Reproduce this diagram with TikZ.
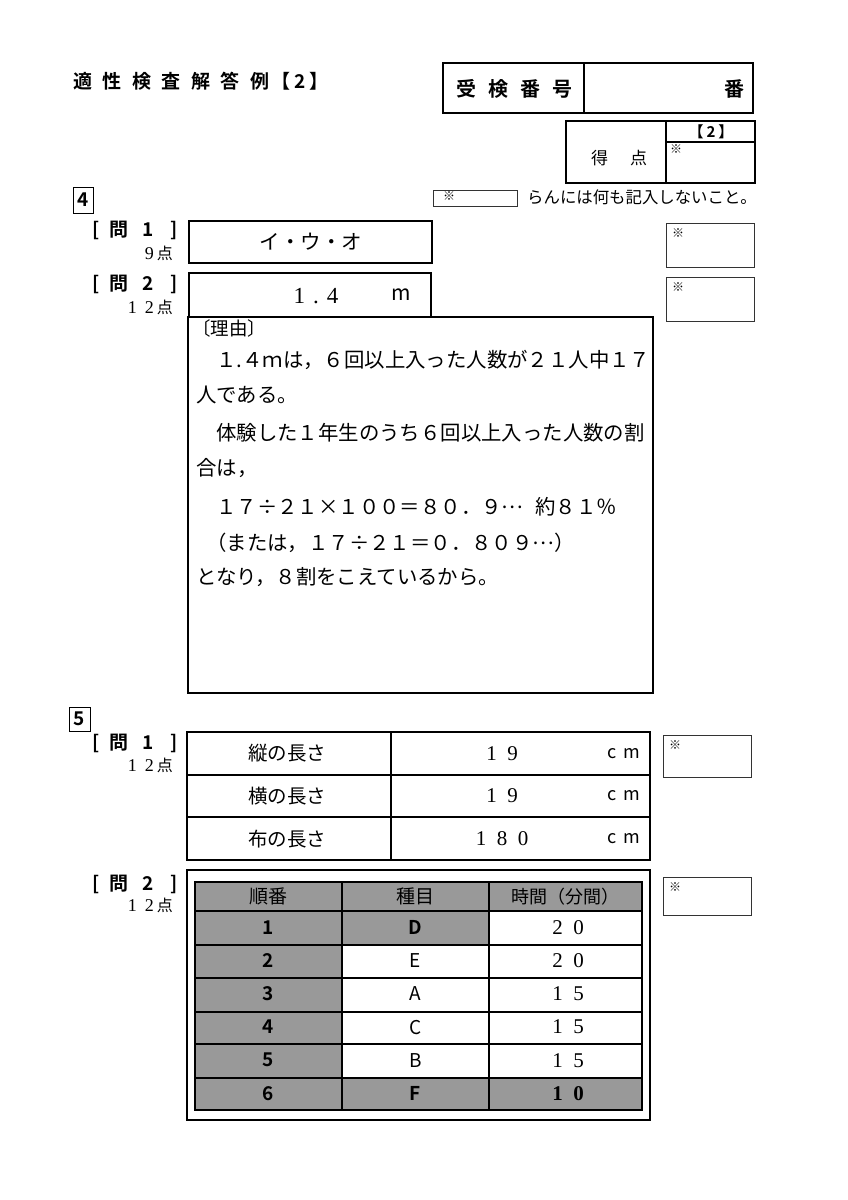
\documentclass[tikz,border=0pt]{standalone}
\usepackage{fontspec}
\setmainfont{Noto Sans CJK JP}
\newfontfamily\gbold{Noto Sans CJK JP Bold}
\newfontfamily\mc{Liberation Serif}
\newcommand\fsz[1]{\fontsize{#1}{#1}\selectfont}
\newcommand\gp[1]{\hspace{#1pt}}

\begin{document}
\begin{tikzpicture}[x=1pt,y=-1pt,
    kome/.style={anchor=north west, inner sep=0pt, font=\fsz{12}},
    qlabel/.style={anchor=east, inner sep=0pt, font=\gbold\fsz{19}},
    pts/.style={anchor=east, inner sep=0pt, font=\fsz{16}},
    reason/.style={anchor=west, inner sep=0pt, font=\fsz{20.4}},
    thinbox/.style={line width=0.8pt, draw=black!80},
    greycell/.style={fill=black!40}]
    \useasboundingbox (0,0) rectangle (848,1200);
    \fill[white] (0,0) rectangle (848,1200);
    % 見出し
    \node[anchor=west, inner sep=0pt, font=\gbold\fsz{19}] (title) at (73,81)
      {適\gp{10.5}性\gp{10.5}検\gp{10.5}査\gp{10.5}解\gp{10.5}答\gp{10.5}例\gp{2}【\gp{4}2\gp{4}】};
    % 受検番号
    \draw[line width=2.5pt] (443,63) rectangle (753,113);
    \draw[line width=2.5pt] (584,63) -- (584,113);
    \node[font=\gbold\fsz{20}] (juken) at (514,89) {受\gp{12}検\gp{12}番\gp{12}号};
    \node[font=\gbold\fsz{20}] (ban) at (734,89) {番};
    % 得点
    \draw[line width=1.2pt] (566,121) rectangle (755,183);
    \draw[line width=1.2pt] (666,121) -- (666,183) (666,142) -- (755,142);
    \node[font=\fsz{17}] (tokuten) at (619,158) {得\gp{22}点};
    \node[font=\gbold\fsz{15}] (kai) at (711,132) {【\gp{3}2\gp{3}】};
    \node[kome] (k0) at (670,144) {※};
    % 4
    \draw[line width=1pt] (73,187) rectangle (93,213);
    \node[font=\gbold\fsz{19}] (dai4) at (83,200) {4};
    \draw[thinbox] (433,190) rectangle (517,206);
    \node[kome] (k1) at (443,191) {※};
    \node[anchor=west, inner sep=0pt, font=\fsz{16.4}] (note) at (527,197) {らんには何も記入しないこと。};
    % 問1
    \node[qlabel] (q41) at (178,230) {[\gp{10}問\gp{14}1\gp{17}]};
    \node[pts] (p41) at (173,253) {{\mc\fsz{18} 9}\gp{3}点};
    \draw[line width=2pt] (189,221) rectangle (432,263);
    \node[font=\fsz{20.5}] (ans1) at (311,242) {イ・ウ・オ};
    \draw[thinbox] (666,223) rectangle (754,267);
    \node[kome] (k2) at (672,228) {※};
    % 問2
    \node[qlabel] (q42) at (178,284) {[\gp{10}問\gp{14}2\gp{17}]};
    \node[pts] (p42) at (173,307) {{\mc\fsz{18} 1\gp{8}2}\gp{3}点};
    \draw[line width=2pt] (189,273) rectangle (431,317);
    \node[font=\mc\fsz{23}] (ans2) at (316,296) {1\gp{8}.\gp{8}4};
    \node[font=\fsz{21}] (unit2) at (401,295) {m};
    \draw[thinbox] (666,277) rectangle (754,321);
    \node[kome] (k3) at (672,282) {※};
    % 理由
    \draw[line width=2pt] (188,317) rectangle (653,693);
    \node[reason, font=\fsz{18.5}] (r0) at (192,328) {〔理由〕};
    \node[reason] (r1) at (216,360) {１.４ｍは，６回以上入った人数が２１人中１７};
    \node[reason] (r2) at (196,395) {人である。};
    \node[reason] (r3) at (216,433) {体験した１年生のうち６回以上入った人数の割};
    \node[reason] (r4) at (196,468) {合は，};
    \node[reason] (r5) at (216,507) {１７÷２１×１００＝８０．９\raisebox{0.3em}{…}\gp{12}約８１％};
    \node[reason] (r6) at (206,543) {（または，１７÷２１＝０．８０９\raisebox{0.3em}{…}）};
    \node[reason] (r7) at (196,577) {となり，８割をこえているから。};
    % 5
    \draw[line width=1pt] (69,707) rectangle (90,731);
    \node[font=\gbold\fsz{19}] (dai5) at (79.5,719) {5};
    % 問1
    \node[qlabel] (q51) at (178,743) {[\gp{10}問\gp{14}1\gp{17}]};
    \node[pts] (p51) at (173,765) {{\mc\fsz{18} 1\gp{8}2}\gp{3}点};
    \draw[line width=2pt] (187,732) rectangle (650,860);
    \draw[line width=2pt] (187,775) -- (650,775) (187,817) -- (650,817) (391,732) -- (391,860);
    \foreach \name/\val [count=\i] in {縦の長さ/{1\enskip 9}, 横の長さ/{1\enskip 9}, 布の長さ/{1\enskip 8\enskip 0}} {
      \node[font=\fsz{19.5}] (len\i) at (287,{732+42.7*(\i-0.5)}) {\name};   % 項目
      \node[font=\mc\fsz{21}] (val\i) at (502,{732+42.7*(\i-0.5)}) {\val}; % 数値
      \node[font=\fsz{18}] (cm\i) at (624,{732+42.7*(\i-0.5)}) {c\gp{7}m}; % 単位
    }
    \draw[thinbox] (663,735) rectangle (751,777);
    \node[kome] (k4) at (669,740) {※};
    % 問2
    \node[qlabel] (q52) at (178,884) {[\gp{10}問\gp{14}2\gp{17}]};
    \node[pts] (p52) at (173,905) {{\mc\fsz{18} 1\gp{8}2}\gp{3}点};
    \draw[line width=2pt] (187,870) rectangle (650,1120);
    \fill[greycell] (195,882) rectangle (642,911);
    \fill[greycell] (195,911) rectangle (342,1110);
    \fill[greycell] (342,911) rectangle (489,945);
    \fill[greycell] (342,1078) rectangle (642,1110);
    \draw[line width=2pt] (195,882) rectangle (642,1110);
    \foreach \x in {342,489} {\draw[line width=2pt] (\x,882) -- (\x,1110);}
    \foreach \y in {911,945,978,1012,1044,1078} {\draw[line width=1.6pt] (195,\y) -- (642,\y);}
    \node[font=\fsz{19}] (h1) at (268.5,896.5) {順番};
    \node[font=\fsz{19}] (h2) at (415.5,896.5) {種目};
    \node[font=\fsz{18}] (h3) at (565.5,896.5) {時間（分間）};
    \foreach \n/\k/\t [count=\i] in {1/{\gbold D}/{2\enskip 0}, 2/E/{2\enskip 0}, 3/A/{1\enskip 5},
                                     4/C/{1\enskip 5}, 5/B/{1\enskip 5}, 6/{\gbold F}/{\bfseries 1\enskip 0}} {
      \node[font=\gbold\fsz{19}] (no\i) at (268.5,{911+33.17*(\i-0.5)}) {\n};  % 順番
      \node[font=\fsz{19}] (ev\i) at (415.5,{911+33.17*(\i-0.5)}) {\k};        % 種目
      \node[font=\mc\fsz{21}] (tm\i) at (568,{911+33.17*(\i-0.5)}) {\t};       % 時間
    }
    \draw[thinbox] (663,877) rectangle (751,915);
    \node[kome] (k5) at (669,882) {※};
\end{tikzpicture}
\end{document}
